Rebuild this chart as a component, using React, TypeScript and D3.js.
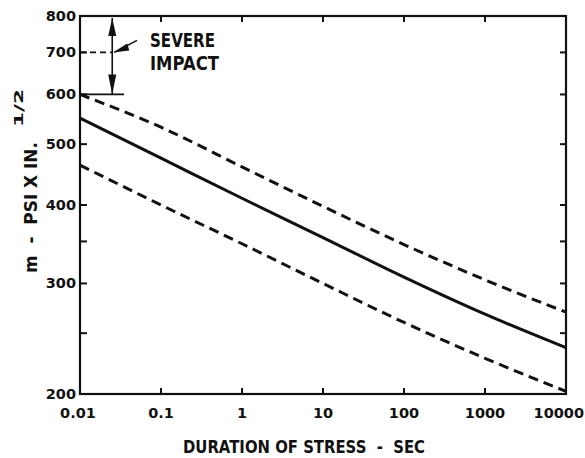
import React from "react";
import * as d3 from "d3";

const W = 585;
const H = 458;

// Data
const durations = [0.01, 0.1, 1, 10, 100, 1000, 10000];
const meanM = [550, 475, 410, 355, 307, 268, 237];
const upperM = [600, 532, 460, 398, 346, 304, 270];
const lowerM = [463, 400, 347, 300, 260, 228, 202];

const xTickValues = [0.01, 0.1, 1, 10, 100, 1000, 10000];
const xTickLabels = ["0.01", "0.1", "1", "10", "100", "1000", "10000"];
const yTickValues = [200, 300, 400, 500, 600, 700, 800];
const yTickLabels = ["200", "300", "400", "500", "600", "700", "800"];
const yMinorTicks = [250, 350];

const severeTop = 800;
const severeMid = 700;
const severeBottom = 600;
const severeX = 0.025;

const FONT = "'DejaVu Sans', sans-serif";
const INK = "#111";

export default function App() {
  const left = 80, right = 566, top = 16, bottom = 394;
  const x = d3.scaleLog().domain([0.01, 10000]).range([left, right]);
  const y = d3.scaleLog().domain([200, 800]).range([bottom, top]);

  const line = d3
    .line<[number, number]>()
    .x((d) => x(d[0]))
    .y((d) => y(d[1]))
    .curve(d3.curveMonotoneX);

  const pts = (vals: number[]) => durations.map((t, i) => [t, vals[i]] as [number, number]);

  const ax = x(severeX);
  const yT = y(severeTop);
  const yM = y(severeMid);
  const yB = y(severeBottom);

  return (
    <svg
      width={W}
      height={H}
      style={{ position: "absolute", left: 0, top: 0, background: "#fff" }}
      fontFamily={FONT}
    >
      <rect x={0} y={0} width={W} height={H} fill="#fff" />

      {/* frame */}
      <rect x={left} y={top} width={right - left} height={bottom - top} fill="none" stroke={INK} strokeWidth={2.2} />

      {/* y ticks left & right */}
      {[...yTickValues, ...yMinorTicks].map((v) => (
        <g key={"yt" + v}>
          <line x1={left} x2={left + 7} y1={y(v)} y2={y(v)} stroke={INK} strokeWidth={2} />
          <line x1={right} x2={right - 6} y1={y(v)} y2={y(v)} stroke={INK} strokeWidth={2} />
        </g>
      ))}
      {yTickValues.map((v, i) => (
        <text
          key={"yl" + v}
          x={left - 4}
          y={y(v) + 5}
          textAnchor="end"
          fontSize={14.5}
          fontWeight="bold"
          fill={INK}
        >
          {yTickLabels[i]}
        </text>
      ))}

      {/* x ticks bottom & top */}
      {xTickValues.map((v) => (
        <g key={"xt" + v}>
          <line x1={x(v)} x2={x(v)} y1={bottom} y2={bottom - 6} stroke={INK} strokeWidth={2} />
          <line x1={x(v)} x2={x(v)} y1={top} y2={top + 6} stroke={INK} strokeWidth={2} />
        </g>
      ))}
      {xTickValues.map((v, i) => {
        const last = i === xTickValues.length - 1;
        return (
          <text
            key={"xl" + v}
            x={last ? W - 1 : x(v) - (i === 0 ? 2 : 0)}
            y={418}
            textAnchor={last ? "end" : "middle"}
            fontSize={14.5}
            fontWeight="bold"
            fill={INK}
          >
            {xTickLabels[i]}
          </text>
        );
      })}

      {/* axis titles */}
      <text
        x={183}
        y={453}
        fontSize={18}
        fontWeight="bold"
        fill={INK}
        textLength={242}
        lengthAdjust="spacingAndGlyphs"
        style={{ whiteSpace: "pre" }}
      >
        {"DURATION OF STRESS  -  SEC"}
      </text>
      <text
        transform="translate(37,273) rotate(-90)"
        fontSize={18}
        fontWeight="bold"
        fill={INK}
        textLength={131}
        lengthAdjust="spacingAndGlyphs"
        style={{ whiteSpace: "pre" }}
      >
        {"m  -  PSI X IN."}
      </text>
      <text
        transform="translate(23,127) rotate(-90)"
        fontSize={13}
        fontWeight="bold"
        fill={INK}
        textLength={38}
        lengthAdjust="spacingAndGlyphs"
      >
        1/2
      </text>

      {/* curves */}
      <path d={line(pts(upperM)) || ""} fill="none" stroke={INK} strokeWidth={3} strokeDasharray="10,6" />
      <path d={line(pts(meanM)) || ""} fill="none" stroke={INK} strokeWidth={3} />
      <path d={line(pts(lowerM)) || ""} fill="none" stroke={INK} strokeWidth={3} strokeDasharray="10,6" />

      {/* severe impact annotation */}
      <line x1={ax} x2={ax} y1={yT + 2} y2={yB} stroke={INK} strokeWidth={1.6} />
      <polygon points={`${ax},${yT + 2} ${ax - 4},${yT + 20} ${ax + 4},${yT + 20}`} fill={INK} />
      <polygon points={`${ax},${yB} ${ax - 4},${yB - 20} ${ax + 4},${yB - 20}`} fill={INK} />
      <line x1={left} x2={x(0.035)} y1={yB} y2={yB} stroke={INK} strokeWidth={1.8} />
      <line x1={left} x2={ax} y1={yM} y2={yM} stroke={INK} strokeWidth={1.8} strokeDasharray="6,4" />
      <line x1={ax + 2} x2={137} y1={yM} y2={yM - 12} stroke={INK} strokeWidth={1.6} />
      <polygon points={`${ax + 1},${yM} ${ax + 15},${yM - 9} ${ax + 17},${yM - 2}`} fill={INK} />
      <text x={150} y={47} fontSize={19} fontWeight="bold" fill={INK} textLength={65} lengthAdjust="spacingAndGlyphs">
        SEVERE
      </text>
      <text x={150} y={70} fontSize={19} fontWeight="bold" fill={INK} textLength={69} lengthAdjust="spacingAndGlyphs">
        IMPACT
      </text>
    </svg>
  );
}
